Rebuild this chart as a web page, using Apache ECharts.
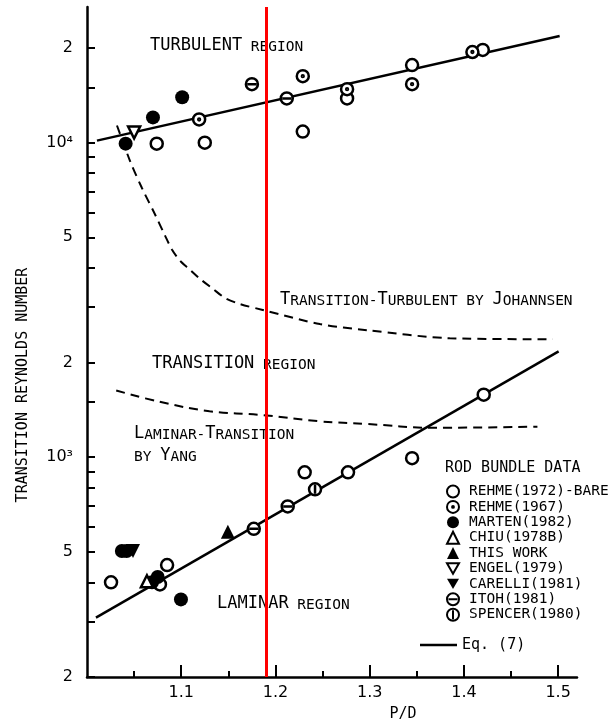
<!DOCTYPE html>
<html><head><meta charset="utf-8">
<script src="https://cdn.jsdelivr.net/npm/echarts@6/dist/echarts.min.js"></script>
<style>html,body{margin:0;padding:0;background:#fff}#c{width:610px;height:728px}</style>
</head><body><div id="c"></div>
<script>
// ---- data (x = P/D, y = transition Reynolds number) ----
const rehme1972 = [[1.074, 9930], [1.125, 10000], [1.229, 10850], [1.276, 13830], [1.345, 17650], [1.420, 19720],
                   [1.0255, 400], [1.0774, 394], [1.085, 454], [1.231, 895], [1.277, 895], [1.345, 993], [1.421, 1580]];
const rehme1967 = [[1.119, 11850], [1.229, 16270], [1.276, 14790], [1.345, 15340], [1.409, 19420]];
const marten1982 = [[1.041, 9930], [1.070, 12030], [1.101, 13940], [1.037, 503], [1.042, 503], [1.069, 400], [1.075, 416], [1.0997, 353]];
const chiu1978b = [[1.0636, 403]];
const thisWork = [[1.1495, 579]];
const engel1979 = [[1.050, 10770]];
const carelli1981 = [[1.0488, 503]];
const itoh1981 = [[1.175, 15340], [1.212, 13830], [1.177, 592], [1.213, 697]];
const spencer1980 = [[1.242, 790]];

const eq7Turbulent = [[1.0106, 10150], [1.5016, 21850]];
const eq7Laminar = [[1.0095, 309], [1.5005, 2170]];
const johannsenX = [1.0318, 1.0456, 1.0583, 1.0721, 1.0827, 1.0901, 1.0986, 1.1092, 1.1198, 1.1336, 1.1463, 1.1622, 1.1866, 1.2471, 1.2969, 1.3849, 1.4942];
const johannsenY = [11340, 8756, 7175, 5921, 5072, 4575, 4217, 3947, 3692, 3430, 3210, 3070, 2938, 2650, 2534, 2389, 2371];
const yangX = [1.031, 1.077, 1.130, 1.187, 1.247, 1.297, 1.367, 1.478];
const yangY = [1630, 1500, 1400, 1360, 1300, 1275, 1240, 1250];
const redLineX = 1.1866;

const xLabelValues = [1.1, 1.2, 1.3, 1.4, 1.5];
const xMinorTicks = [1.05, 1.15, 1.25, 1.35, 1.45];
const yTickValues = [200, 300, 400, 500, 600, 700, 800, 900, 1000, 1500, 2000, 3000, 4000, 5000, 6000, 7000, 8000, 9000, 10000, 15000, 20000];
const yLabelValues = [200, 500, 1000, 2000, 5000, 10000, 20000];
const yLabelTexts = ['2', '5', '10\u00b3', '2', '5', '10\u2074', '2'];
const legendNames = ['REHME(1972)-BARE', 'REHME(1967)', 'MARTEN(1982)', 'CHIU(1978B)', 'THIS WORK', 'ENGEL(1979)', 'CARELLI(1981)', 'ITOH(1981)', 'SPENCER(1980)'];

// ---- styling ----
const MONO = 'DejaVu Sans Mono';
const SANS = 'DejaVu Sans';
const CIRCLE = 'M0,10A10,10,0,1,1,20,10A10,10,0,1,1,0,10Z';
const SYM_DOT = 'path://' + CIRCLE + 'M8.5,10A1.5,1.5,0,1,1,11.5,10A1.5,1.5,0,1,1,8.5,10Z';
const SYM_HBAR = 'path://' + CIRCLE + 'M2.5,10L17.5,10';
const SYM_VBAR = 'path://' + CIRCLE + 'M10,2.5L10,17.5';
const SYM_DOWN = 'path://M0,0L20,0L10,17.3Z';

const hollow = {color: '#fff', borderColor: '#000', borderWidth: 2.5, opacity: 1};
const solid = {color: '#000', borderWidth: 0, opacity: 1};
function pts(name, data, symbol, size, style) {
  return {type: 'scatter', name, data, symbol, symbolSize: size, itemStyle: style, z: 4, silent: true};
}
const zip = (xs, ys) => xs.map((x, i) => [x, ys[i]]);

const rich = {
  B: {fontFamily: MONO, fontSize: 17, lineHeight: 17, verticalAlign: 'bottom', color: '#000'},
  s: {fontFamily: MONO, fontSize: 14.5, lineHeight: 14.5, verticalAlign: 'bottom', color: '#000'}
};
function note(x, y, text) {
  return {type: 'text', x, y, z: 5, silent: true,
    style: {text, rich, fill: '#000', align: 'left', verticalAlign: 'bottom', textAlign: 'left', textVerticalAlign: 'bottom'}};
}

const chart = echarts.init(document.getElementById('c'), null, {renderer: 'canvas'});
chart.setOption({
  backgroundColor: '#fff',
  animation: false,
  grid: {left: 87, right: 33, top: 7, bottom: 51, outerBoundsMode: 'none', containLabel: false},
  xAxis: [
    {type: 'value', min: 1.0, max: 1.52, position: 'bottom',
     axisLine: {onZero: false, lineStyle: {color: '#000', width: 2.5}},
     axisTick: {customValues: xLabelValues, inside: true, length: 12, lineStyle: {color: '#000', width: 2}},
     axisLabel: {customValues: xLabelValues, formatter: v => v.toFixed(1), margin: 8, color: '#000', fontFamily: SANS, fontSize: 16},
     splitLine: {show: false}},
    {type: 'value', min: 1.0, max: 1.52, position: 'bottom',
     axisLine: {show: false, onZero: false},
     axisTick: {customValues: xMinorTicks, inside: true, length: 6, lineStyle: {color: '#000', width: 2}},
     axisLabel: {show: false}, splitLine: {show: false}}
  ],
  yAxis: [
    {type: 'log', logBase: 10, min: 200, max: 27000, position: 'left',
     axisLine: {onZero: false, lineStyle: {color: '#000', width: 2.5}},
     axisTick: {show: false}, axisLabel: {show: false}, splitLine: {show: false}, minorTick: {show: false}},
    {type: 'value', min: Math.log10(200), max: Math.log10(27000), position: 'left',
     axisLine: {show: false, onZero: false},
     axisTick: {customValues: yTickValues.map(Math.log10), inside: true, length: 8, lineStyle: {color: '#000', width: 2}},
     axisLabel: {customValues: yLabelValues.map(Math.log10), margin: 14, color: '#000', fontFamily: SANS, fontSize: 16,
       formatter: v => {
         let best = 0;
         yLabelValues.forEach((t, i) => { if (Math.abs(Math.log10(t) - v) < Math.abs(Math.log10(yLabelValues[best]) - v)) best = i; });
         return yLabelTexts[best];
       }},
     splitLine: {show: false}}
  ],
  legend: [
    {data: legendNames, orient: 'vertical', left: 441, top: 479, itemWidth: 12, itemHeight: 12, itemGap: 0.4,
     selectedMode: false, textStyle: {fontFamily: MONO, fontSize: 14.5, lineHeight: 15, color: '#000', padding: [0, 0, 0, 5]}},
    {data: [{name: 'Eq. (7)', icon: 'rect'}], orient: 'vertical', left: 415, top: 632.5, itemWidth: 37, itemHeight: 2.5,
     selectedMode: false, textStyle: {fontFamily: MONO, fontSize: 15, lineHeight: 15, color: '#000'}}
  ],
  graphic: [
    note(150, 54.5, '{B|TURBULENT}{s| REGION}'),
    note(280, 308.5, '{B|T}{s|RANSITION-}{B|T}{s|URBULENT BY }{B|J}{s|OHANNSEN}'),
    note(152, 372.5, '{B|TRANSITION}{s| REGION}'),
    note(134, 442.5, '{B|L}{s|AMINAR-}{B|T}{s|RANSITION}'),
    note(134, 464.5, '{s|BY }{B|Y}{s|ANG}'),
    note(217, 612.5, '{B|LAMINAR}{s| REGION}'),
    {type: 'text', x: 445, y: 475.5, silent: true,
     style: {text: 'ROD BUNDLE DATA', fontFamily: MONO, fontSize: 15, fill: '#000', align: 'left', verticalAlign: 'bottom', textAlign: 'left', textVerticalAlign: 'bottom'}},
    {type: 'text', x: 23, y: 385, rotation: Math.PI / 2, silent: true,
     style: {text: 'TRANSITION REYNOLDS NUMBER', fontFamily: MONO, fontSize: 15, fill: '#000', align: 'center', verticalAlign: 'middle', textAlign: 'center', textVerticalAlign: 'middle'}},
    {type: 'text', x: 403, y: 714, silent: true,
     style: {text: 'P/D', fontFamily: MONO, fontSize: 15, fill: '#000', align: 'center', verticalAlign: 'middle', textAlign: 'center', textVerticalAlign: 'middle'}}
  ],
  series: [
    {type: 'line', name: 'Eq. (7)', data: eq7Turbulent, symbol: 'none', lineStyle: {color: '#000', width: 2.5}, itemStyle: {color: '#000'}, z: 2, silent: true},
    {type: 'line', name: 'Eq. (7)', data: eq7Laminar, symbol: 'none', lineStyle: {color: '#000', width: 2.5}, itemStyle: {color: '#000'}, z: 2, silent: true},
    {type: 'line', name: 'Johannsen', data: zip(johannsenX, johannsenY), symbol: 'none', smooth: 0.3,
     lineStyle: {color: '#000', width: 2, type: [9, 6]}, z: 2, silent: true},
    {type: 'line', name: 'Yang', data: zip(yangX, yangY), symbol: 'none', smooth: 0.4,
     lineStyle: {color: '#000', width: 2, type: [9, 6]}, z: 2, silent: true},
    pts('REHME(1972)-BARE', rehme1972, 'circle', 12, hollow),
    pts('REHME(1967)', rehme1967, SYM_DOT, 12, hollow),
    pts('MARTEN(1982)', marten1982, 'circle', 14, solid),
    pts('CHIU(1978B)', chiu1978b, 'triangle', 12, hollow),
    pts('THIS WORK', thisWork, 'triangle', 14, solid),
    pts('ENGEL(1979)', engel1979, SYM_DOWN, 12, hollow),
    pts('CARELLI(1981)', carelli1981, SYM_DOWN, 14, solid),
    pts('ITOH(1981)', itoh1981, SYM_HBAR, 12, hollow),
    pts('SPENCER(1980)', spencer1980, SYM_VBAR, 12, hollow),
    {type: 'line', name: 'marker', data: [], z: 20, silent: true,
     markLine: {silent: true, symbol: 'none', label: {show: false}, animation: false,
       lineStyle: {color: '#ff0000', width: 3, type: 'solid', opacity: 1}, data: [{xAxis: redLineX}]}}
  ]
});
</script></body></html>
